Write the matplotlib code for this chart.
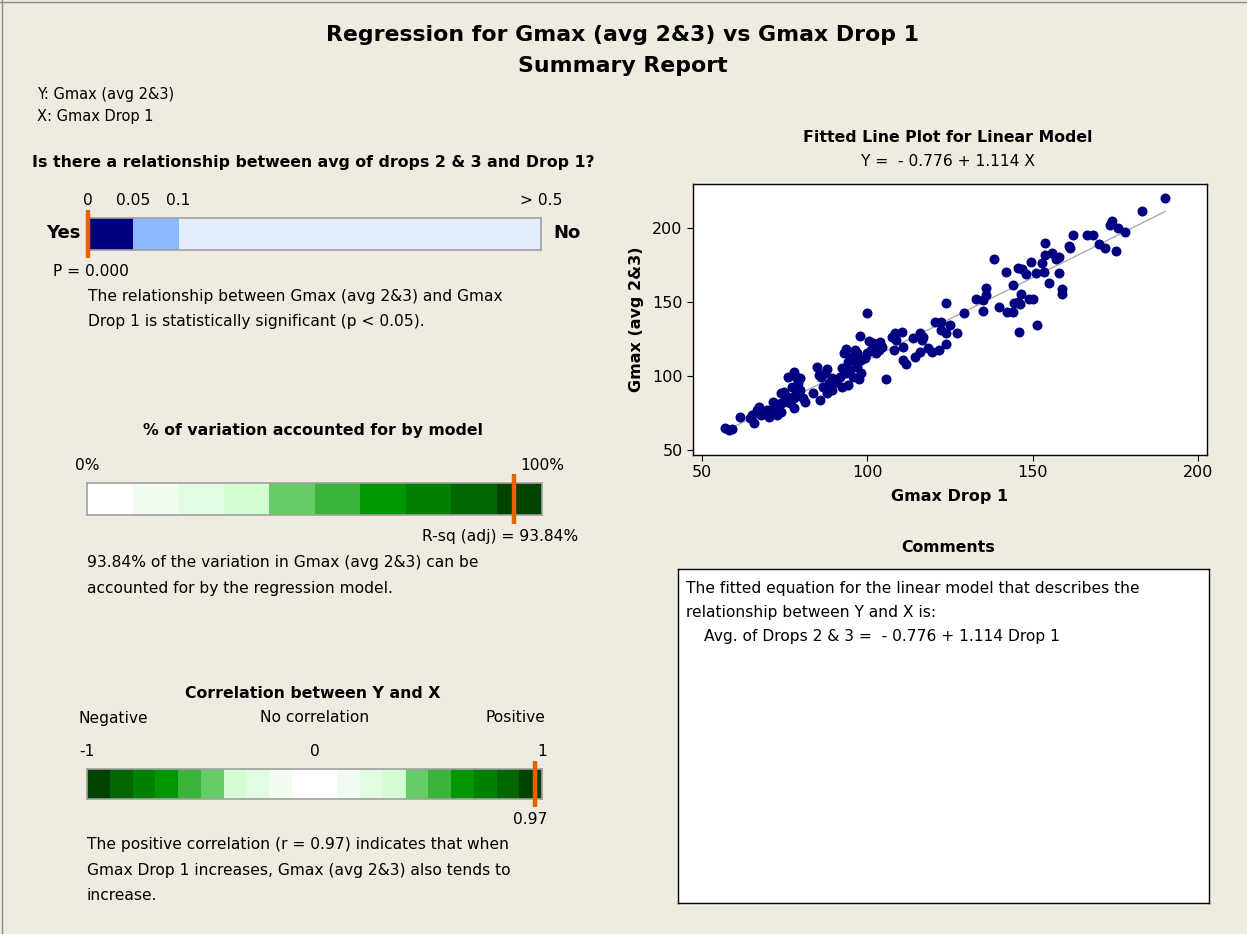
import matplotlib
matplotlib.use('Agg')
import matplotlib.pyplot as plt
import numpy as np
from matplotlib.lines import Line2D

W, H = 1247, 934

# p-value bar
p_edges = [0, 0.05, 0.1, 0.5]
p_colors = ['#000080', '#8CB8FF', '#E4EDFC']
p_ticks = [0, 0.05, 0.1, 0.5]
p_ticklabels = ['0', '0.05', '0.1', '> 0.5']
p_value = 0.000

# R-sq bar
rsq_edges = [0, 10, 20, 30, 40, 50, 60, 70, 80, 90, 100]
rsq_colors = ['#FFFFFF', '#F2FDF2', '#E2FCE2', '#D2FCD2', '#66CC66',
              '#3CB43C', '#009600', '#008000', '#006600', '#004400']
rsq_adj = 93.84

# correlation bar
corr_edges = [-1, -0.9, -0.8, -0.7, -0.6, -0.5, -0.4, -0.3, -0.2, -0.1, 0,
              0.1, 0.2, 0.3, 0.4, 0.5, 0.6, 0.7, 0.8, 0.9, 1]
corr_colors = rsq_colors[::-1] + rsq_colors
r_value = 0.97

# fitted line
intercept = -0.776
slope = 1.114

# scatter data
x_drop1 = [190.0, 183.1, 173.3, 173.9, 175.9, 178.0, 175.2, 170.1, 172.0, 166.4,
           168.3, 162.2, 161.0, 161.4, 153.8, 153.8, 155.9, 157.9, 157.1, 152.7,
           153.3, 157.9, 155.0, 159.0, 159.0, 151.2, 146.0, 149.4, 148.0, 146.9,
           145.7, 151.0, 150.1, 149.0, 146.6, 145.7, 144.5, 146.3, 144.0, 142.0,
           138.2, 142.2, 144.0, 139.9, 135.8, 135.8, 135.0, 132.9, 135.0, 129.1,
           123.9, 127.1, 125.0, 123.7, 123.9, 122.3, 122.3, 120.4, 121.6, 119.6,
           118.4, 116.7, 115.8, 113.8, 116.4, 115.8, 114.4, 110.7, 110.7, 111.6,
           110.5, 108.4, 107.6, 108.8, 108.0, 105.8, 103.9, 104.5, 103.4, 102.6,
           100.5, 101.6, 99.9, 97.9, 99.9, 101.0, 99.3, 98.1, 96.4, 97.0,
           94.7, 95.8, 94.1, 92.9, 93.5, 97.0, 98.1, 97.6, 95.8, 94.7,
           93.5, 92.3, 91.8, 92.3, 94.1, 90.6, 89.4, 89.4, 87.7, 86.5,
           88.3, 87.1, 87.7, 86.0, 84.8, 85.4, 85.6, 83.6, 81.3, 80.7,
           79.6, 78.4, 77.8, 79.0, 76.1, 79.6, 78.4, 77.3, 77.8, 77.8,
           76.1, 74.9, 73.8, 74.9, 76.7, 73.8, 72.6, 71.5, 72.0, 70.9,
           69.7, 69.1, 67.9, 67.4, 66.8, 65.1, 65.7, 64.5, 70.3, 72.6,
           73.8, 61.6, 57.0, 58.1, 59.0]
y_avg23 = [220.2, 211.5, 201.8, 204.7, 199.5, 197.3, 184.2, 188.7, 186.0, 195.0,
           195.0, 195.0, 187.6, 186.0, 189.6, 181.5, 183.1, 180.4, 178.6, 176.4,
           170.3, 169.6, 163.0, 158.4, 155.2, 134.3, 129.8, 176.6, 168.7, 171.9,
           172.6, 169.6, 151.9, 151.9, 155.0, 150.0, 148.9, 148.5, 161.3, 170.3,
           178.6, 143.3, 143.3, 146.7, 159.0, 154.6, 151.2, 151.9, 144.0, 142.6,
           149.4, 129.2, 134.3, 128.7, 121.5, 131.0, 136.1, 136.1, 117.5, 116.3,
           118.6, 126.5, 128.7, 125.3, 124.2, 116.3, 112.5, 119.7, 110.7, 108.0,
           129.4, 128.7, 126.0, 124.2, 117.5, 97.7, 123.1, 119.7, 117.5, 115.2,
           123.8, 122.4, 142.6, 126.9, 115.2, 117.5, 111.8, 110.7, 117.5, 115.2,
           113.0, 110.7, 109.6, 115.2, 118.0, 106.2, 101.7, 97.7, 99.5, 104.0,
           101.7, 105.1, 99.5, 92.7, 93.9, 96.1, 98.3, 90.5, 88.2, 92.7,
           95.0, 101.7, 104.4, 99.0, 106.2, 100.6, 83.7, 88.2, 82.6, 84.9,
           98.3, 99.5, 102.8, 95.0, 99.5, 90.5, 88.2, 92.7, 84.9, 78.1,
           86.0, 89.4, 88.2, 82.6, 81.5, 81.5, 79.2, 82.6, 75.9, 77.0,
           77.0, 74.7, 73.6, 79.2, 77.0, 73.6, 68.0, 71.4, 72.5, 73.6,
           75.9, 72.5, 64.6, 63.5, 63.9]

BG = '#EFEBE1'
ORANGE = '#E66400'
HEAD = 11.3   # bold section headings
BODY = 11.2   # body text
plt.rcParams['font.family'] = 'DejaVu Sans'

fig = plt.figure(figsize=(W / 100, H / 100), dpi=100, facecolor=BG)


def px(x, y):
    return x / W, 1 - y / H


def box(x0, y0, x1, y1):
    return [x0 / W, 1 - y1 / H, (x1 - x0) / W, (y1 - y0) / H]


def txt(x, y, s, **kw):
    kw.setdefault('fontsize', BODY)
    kw.setdefault('va', 'center')
    fig.text(*px(x, y), s, **kw)


# frame of the report
fig.add_artist(Line2D([1.5 / W, 1.5 / W], [0, 1], color='#8C8C8C', lw=1))
fig.add_artist(Line2D([0, 1], [1 - 1.5 / H, 1 - 1.5 / H], color='#8C8C8C', lw=1))

# titles
txt(623, 35, 'Regression for Gmax (avg 2&3) vs Gmax Drop 1', ha='center',
    fontsize=15.8, fontweight='bold')
txt(623, 66, 'Summary Report', ha='center', fontsize=15.8, fontweight='bold')
txt(37, 94, 'Y: Gmax (avg 2&3)', fontsize=10.5)
txt(37, 116, 'X: Gmax Drop 1', fontsize=10.5)


def seg_bar(rect, edges, colors, marker, lo, hi, ticks, labels, ext):
    ax = fig.add_axes(rect)
    edges = np.array(edges, dtype=float)
    ax.barh(0, np.diff(edges), left=edges[:-1], height=1, color=colors,
            edgecolor='none')
    ax.set_xlim(lo, hi)
    ax.set_ylim(-0.5, 0.5)
    ax.set_yticks([])
    ax.xaxis.tick_top()
    ax.set_xticks(ticks)
    ax.set_xticklabels(labels, fontsize=BODY)
    ax.tick_params(axis='x', length=0, pad=7)
    for s in ax.spines.values():
        s.set_color('#A0A0A0')
        s.set_linewidth(1.2)
    ax.plot([marker, marker], [-ext, ext], color=ORANGE, lw=3.2,
            clip_on=False, zorder=5, solid_capstyle='butt')
    return ax


# section 1: p-value
txt(313, 163, 'Is there a relationship between avg of drops 2 & 3 and Drop 1?',
    ha='center', fontsize=HEAD, fontweight='bold')
seg_bar(box(88, 218, 541, 250), p_edges, p_colors, p_value, 0, 0.5,
        p_ticks, p_ticklabels, 0.75)
txt(80, 233, 'Yes', ha='right', fontsize=13, fontweight='bold')
txt(553, 233, 'No', ha='left', fontsize=13, fontweight='bold')
txt(53, 271, 'P = 0.000')
txt(88, 297, 'The relationship between Gmax (avg 2&3) and Gmax')
txt(88, 322, 'Drop 1 is statistically significant (p < 0.05).')

# section 2: R-sq
txt(313, 431, '% of variation accounted for by model', ha='center',
    fontsize=HEAD, fontweight='bold')
seg_bar(box(87, 483, 542, 515), rsq_edges, rsq_colors, rsq_adj, 0, 100,
        [0, 100], ['0%', '100%'], 0.78)
txt(578, 537, 'R-sq (adj) = %.2f%%' % rsq_adj, ha='right')
txt(87, 562, '%.2f%% of the variation in Gmax (avg 2&3) can be' % rsq_adj)
txt(87, 588, 'accounted for by the regression model.')

# section 3: correlation
txt(313, 694, 'Correlation between Y and X', ha='center', fontsize=HEAD,
    fontweight='bold')
txt(78, 718, 'Negative')
txt(315, 718, 'No correlation', ha='center')
txt(545, 718, 'Positive', ha='right')
seg_bar(box(87, 769, 542, 799), corr_edges, corr_colors, r_value, -1, 1,
        [-1, 0, 1], ['-1', '0', '1'], 0.78)
txt(548, 819, '%.2f' % r_value, ha='right')
txt(87, 844, 'The positive correlation (r = %.2f) indicates that when' % r_value)
txt(87, 870, 'Gmax Drop 1 increases, Gmax (avg 2&3) also tends to')
txt(87, 895, 'increase.')

# fitted line plot
txt(948, 138, 'Fitted Line Plot for Linear Model', ha='center', fontsize=HEAD,
    fontweight='bold')
txt(948, 161, 'Y =  - 0.776 + 1.114 X', ha='center')
ax = fig.add_axes(box(693, 184, 1207, 455), facecolor='white')
xs = np.array([min(x_drop1), max(x_drop1)])
ax.plot(xs, intercept + slope * xs, color='#ABABAB', lw=1, zorder=2)
ax.scatter(x_drop1, y_avg23, s=52, color='#000080', zorder=3, linewidths=0)
ax.set_xlim(47.3, 202.7)
ax.set_ylim(46.6, 229.5)
ax.set_xticks([50, 100, 150, 200])
ax.set_yticks([50, 100, 150, 200])
ax.tick_params(labelsize=11.5, length=4, direction='out', color='black')
for s in ax.spines.values():
    s.set_color('black')
    s.set_linewidth(1)
ax.set_xlabel('Gmax Drop 1', fontsize=11.5, fontweight='bold', labelpad=6)
ax.set_ylabel('Gmax (avg 2&3)', fontsize=11.5, fontweight='bold', labelpad=6)

# comments
txt(948, 548, 'Comments', ha='center', fontsize=HEAD, fontweight='bold')
cax = fig.add_axes(box(678, 569, 1209, 903), facecolor='white')
cax.set_xticks([])
cax.set_yticks([])
for s in cax.spines.values():
    s.set_color('black')
    s.set_linewidth(1)
txt(686, 588, 'The fitted equation for the linear model that describes the')
txt(686, 612, 'relationship between Y and X is:')
txt(704, 637, 'Avg. of Drops 2 & 3 =  - 0.776 + 1.114 Drop 1')

fig.savefig('out.png', dpi=100, facecolor=BG)
